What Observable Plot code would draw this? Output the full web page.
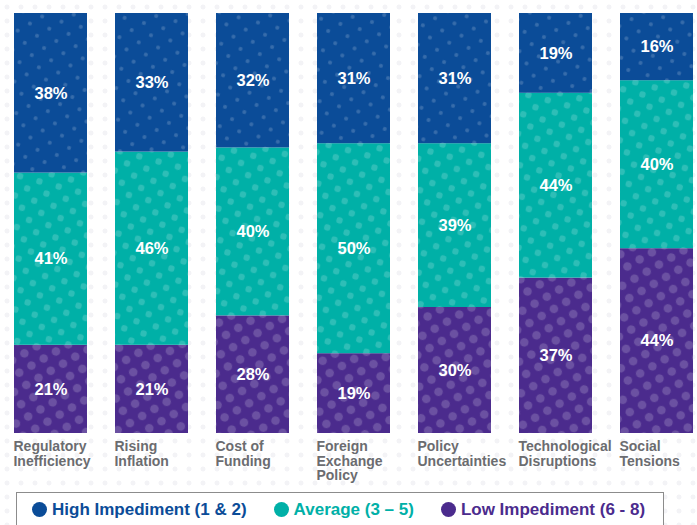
<!DOCTYPE html>
<html>
<head>
<meta charset="utf-8">
<script src="https://cdn.jsdelivr.net/npm/d3@7"></script>
<script src="https://cdn.jsdelivr.net/npm/@observablehq/plot@0.6"></script>
<style>
  html, body { margin: 0; padding: 0; }
  body {
    width: 697px; height: 525px; overflow: hidden;
    font-family: "Liberation Sans", Arial, sans-serif;
    background-color: #ffffff;
    background-image: radial-gradient(circle, #f3f3f6 2.2px, transparent 2.8px);
    background-size: 14px 14px;
  }
  #chart svg { display: block; }
  #legend {
    margin: 4px 0 0 16px;
    width: 648px; height: 40px;
    border: 1.5px solid #8c8c8c; border-bottom: none;
    background: #ffffff;
    display: flex; align-items: center;
    padding: 0 0 6px 15px; box-sizing: border-box;
    font-weight: bold; font-size: 17px;
  }
  .item { display: flex; align-items: center; margin-right: 27px; white-space: nowrap; }
  .dot { width: 15px; height: 15px; border-radius: 50%; margin-right: 5px; }
</style>
</head>
<body>
<div id="chart"></div>
<div id="legend"></div>
<script>
const categories = [
  "Regulatory\nInefficiency",
  "Rising\nInflation",
  "Cost of\nFunding",
  "Foreign\nExchange\nPolicy",
  "Policy\nUncertainties",
  "Technological\nDisruptions",
  "Social\nTensions"
];
const series = ["Low Impediment (6 - 8)", "Average (3 – 5)", "High Impediment (1 & 2)"];
const lowValues = [21, 21, 28, 19, 30, 37, 44];
const averageValues = [41, 46, 40, 50, 39, 44, 40];
const highValues = [38, 33, 32, 31, 31, 19, 16];
const colors = ["#4b2b8d", "#00b0a7", "#0b4c98"];
const legendOrder = [2, 1, 0];

const valuesBySeries = [lowValues, averageValues, highValues];
const data = [];
categories.forEach((c, i) => {
  series.forEach((s, k) => data.push({cat: c, series: s, k, value: valuesBySeries[k][i]}));
});

const W = 697, H = 488, mL = 13, mR = 4, padIn = 0.278;
const step = (W - mL - mR) / (categories.length - padIn);
const bw = step * (1 - padIn);

const stackOpts = {x: "cat", y: "value", z: "series"};

const plot = Plot.plot({
  width: W, height: H,
  marginTop: 13, marginBottom: 55, marginLeft: mL, marginRight: mR,
  style: {background: "transparent", fontFamily: "'Liberation Sans', Arial, sans-serif"},
  x: {domain: categories, paddingInner: padIn, paddingOuter: 0, label: null},
  y: {domain: [0, 100], axis: null},
  color: {domain: series, range: colors},
  marks: [
    Plot.barY(data, Plot.stackY({...stackOpts, fill: "series"})),
    Plot.barY(data, Plot.stackY({...stackOpts, fill: "white", className: "dots"})),
    Plot.text(data, Plot.stackY({...stackOpts, text: d => d.value + "%", fill: "white",
      fontSize: 16.5, fontWeight: "bold"})),
    Plot.axisX({tickSize: 0, tickPadding: 7, textAnchor: "start", dx: -bw / 2 - 1,
      fontSize: 14, fontWeight: "bold", fill: "#6b6c70", lineHeight: 1.05, label: null})
  ]
});

// halftone dot textures
const ns = "http://www.w3.org/2000/svg";
const defs = document.createElementNS(ns, "defs");
const radii = [4.3, 3.2, 2];
radii.forEach((r, k) => {
  const p = document.createElementNS(ns, "pattern");
  p.setAttribute("id", "dots" + k);
  p.setAttribute("patternUnits", "userSpaceOnUse");
  p.setAttribute("width", 20); p.setAttribute("height", 20);
  p.setAttribute("patternTransform", "rotate(15)");
  [[5, 5], [15, 15]].forEach(([cx, cy]) => {
    const c = document.createElementNS(ns, "circle");
    c.setAttribute("cx", cx); c.setAttribute("cy", cy); c.setAttribute("r", r);
    c.setAttribute("fill", "#ffffff"); c.setAttribute("fill-opacity", 0.18);
    p.appendChild(c);
  });
  defs.appendChild(p);
});
plot.insertBefore(defs, plot.firstChild);
plot.querySelectorAll(".dots rect").forEach((rect, i) => {
  rect.setAttribute("fill", `url(#dots${data[i].k})`);
});
document.getElementById("chart").appendChild(plot);

const legend = document.getElementById("legend");
legendOrder.forEach(k => {
  const item = document.createElement("div");
  item.className = "item";
  item.style.color = colors[k];
  const dot = document.createElement("span");
  dot.className = "dot";
  dot.style.background = colors[k];
  item.appendChild(dot);
  item.appendChild(document.createTextNode(series[k]));
  legend.appendChild(item);
});
</script>
</body>
</html>
